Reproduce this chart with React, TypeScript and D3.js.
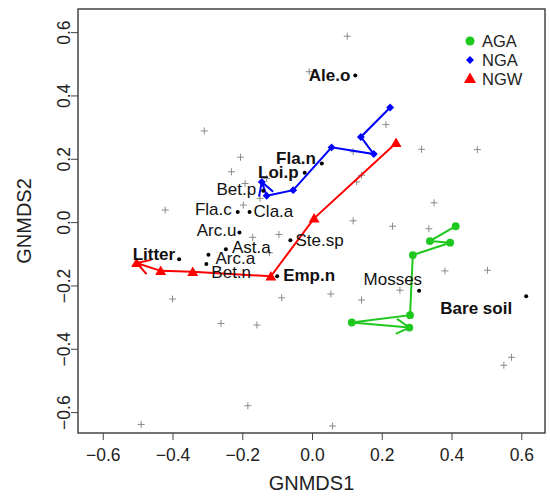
import { useEffect, useRef } from 'react';
import * as d3 from 'd3';

// site scores (grey crosses)
const sites: [number, number][] = [
  [0.101, 0.587], [-0.008, 0.475], [-0.309, 0.288], [0.212, 0.308], [0.314, 0.23],
  [0.474, 0.229], [-0.205, 0.205], [-0.231, 0.159], [0.118, 0.222], [0.142, 0.148],
  [0.128, 0.127], [-0.192, 0.122], [-0.13, 0.138], [-0.149, 0.075], [-0.421, 0.038],
  [-0.197, 0.054], [0.35, 0.061], [0.118, 0.004], [0.231, -0.013], [0.335, -0.021],
  [-0.17, -0.048], [-0.095, -0.039], [-0.122, -0.097], [-0.4, -0.243], [-0.087, -0.239],
  [0.054, -0.227], [0.142, -0.246], [0.252, -0.215], [0.381, -0.154], [0.503, -0.152],
  [-0.261, -0.32], [-0.158, -0.325], [0.572, -0.427], [0.55, -0.452], [-0.184, -0.58],
  [-0.49, -0.639], [0.059, -0.644],
];

// species scores
const speciesNames = ['Ale.o', 'Fla.n', 'Loi.p', 'Bet.p', 'Fla.c', 'Cla.a', 'Arc.u', 'Ast.a',
  'Ste.sp', 'Litter', 'Arc.a', 'Bet.n', 'Emp.n', 'Mosses', 'Bare soil'];
const speciesX = [0.124, 0.028, -0.021, -0.14, -0.213, -0.179, -0.208, -0.247,
  -0.062, -0.381, -0.297, -0.303, -0.1, 0.307, 0.614];
const speciesY = [0.463, 0.185, 0.156, 0.099, 0.032, 0.032, -0.033, -0.086,
  -0.057, -0.117, -0.103, -0.132, -0.171, -0.217, -0.234];
const boldSpecies = ['Ale.o', 'Fla.n', 'Loi.p', 'Litter', 'Emp.n', 'Bare soil'];

// group trajectories
const aga: [number, number][] = [
  [0.412, -0.013], [0.338, -0.06], [0.396, -0.065], [0.289, -0.104],
  [0.281, -0.294], [0.114, -0.317], [0.279, -0.333],
];
const nga: [number, number][] = [
  [0.224, 0.362], [0.14, 0.269], [0.177, 0.215], [0.056, 0.236],
  [-0.054, 0.101], [-0.13, 0.083], [-0.144, 0.127],
];
const ngw: [number, number][] = [
  [0.241, 0.25], [0.006, 0.012], [-0.118, -0.171], [-0.342, -0.157],
  [-0.434, -0.154], [-0.503, -0.129],
];

const groups = ['AGA', 'NGA', 'NGW'];
const ticks = [-0.6, -0.4, -0.2, 0, 0.2, 0.4, 0.6];

// label placement next to each species dot: [anchor, dx, dy]
const labelPos: Record<string, [string, number, number]> = {
  'Ale.o': ['end', -5, 0], 'Fla.n': ['end', -6, -5], 'Loi.p': ['end', -6, 0],
  'Bet.p': ['end', -7, -1], 'Fla.c': ['end', -6, -2], 'Cla.a': ['start', 4, 0],
  'Arc.u': ['end', -3, -2], 'Ast.a': ['start', 6, -2], 'Ste.sp': ['start', 5, 0],
  'Litter': ['end', -4, -5], 'Arc.a': ['start', 7, 4], 'Bet.n': ['start', 5, 9],
  'Emp.n': ['start', 6, -1], 'Mosses': ['end', 3, -11], 'Bare soil': ['end', -14, 12],
};

const font = 'Liberation Sans, Arial, Helvetica, sans-serif';
const colors: Record<string, string> = { AGA: '#1ec81e', NGA: '#0000ff', NGW: '#ff0000' };

const App = () => {
  const ref = useRef<SVGSVGElement>(null);

  useEffect(() => {
    const svg = d3.select(ref.current);
    svg.selectAll('*').remove();

    const left = 78, right = 545, top = 9, bottom = 433;
    const x = d3.scaleLinear().domain([-0.671, 0.668]).range([left, right]);
    const y = d3.scaleLinear().domain([-0.666, 0.673]).range([bottom, top]);

    // sites
    const cs = 3.5;
    svg.append('g')
      .selectAll('path')
      .data(sites)
      .join('path')
      .attr('d', d => `M${x(d[0]) - cs},${y(d[1])}h${cs * 2}M${x(d[0])},${y(d[1]) - cs}v${cs * 2}`)
      .attr('stroke', '#8a8a8a')
      .attr('stroke-width', 1);

    // trajectories
    const line = d3.line<[number, number]>().x(d => x(d[0])).y(d => y(d[1]));
    const tracks: Record<string, [number, number][]> = { AGA: aga, NGA: nga, NGW: ngw };
    groups.forEach(g => {
      const pts = tracks[g];
      const col = colors[g];
      svg.append('path')
        .datum(pts)
        .attr('fill', 'none')
        .attr('stroke', col)
        .attr('stroke-width', 2)
        .attr('d', line);

      // arrow head at last point
      const a = pts[pts.length - 2], b = pts[pts.length - 1];
      const bx = x(b[0]), by = y(b[1]);
      const ang = Math.atan2(y(a[1]) - by, x(a[0]) - bx);
      const len = 15;
      [-Math.PI / 6, Math.PI / 6].forEach(off => {
        svg.append('line')
          .attr('x1', bx).attr('y1', by)
          .attr('x2', bx + len * Math.cos(ang + off))
          .attr('y2', by + len * Math.sin(ang + off))
          .attr('stroke', col)
          .attr('stroke-width', 2);
      });

      const sym = g === 'AGA' ? d3.symbolCircle : g === 'NGA' ? d3.symbolDiamond2 : d3.symbolTriangle;
      const size = g === 'AGA' ? 48 : g === 'NGA' ? 40 : 52;
      svg.append('g')
        .selectAll('path')
        .data(pts)
        .join('path')
        .attr('transform', d => `translate(${x(d[0])},${y(d[1]) + (g === 'NGW' ? 1 : 0)})`)
        .attr('d', d3.symbol().type(sym).size(size)())
        .attr('fill', col);
    });

    // species
    const sp = svg.append('g');
    speciesNames.forEach((name, i) => {
      const px = x(speciesX[i]), py = y(speciesY[i]);
      sp.append('circle').attr('cx', px).attr('cy', py).attr('r', 2).attr('fill', '#000');
      const [anchor, dx, dy] = labelPos[name];
      sp.append('text')
        .attr('x', px + dx)
        .attr('y', py + dy)
        .attr('text-anchor', anchor)
        .attr('dominant-baseline', 'central')
        .attr('font-family', font)
        .attr('font-size', 17)
        .attr('font-weight', boldSpecies.includes(name) ? 'bold' : 'normal')
        .attr('fill', '#111')
        .text(name);
    });

    // axes
    const xAxis = svg.append('g')
      .attr('transform', `translate(0,${bottom})`)
      .call(d3.axisBottom(x).tickValues(ticks).tickSize(7).tickPadding(9).tickSizeOuter(0)
        .tickFormat(d => d3.format('.1f')(d as number).replace('-', '\u2212')));
    xAxis.select('.domain').remove();
    xAxis.selectAll('line').attr('stroke', '#444');
    xAxis.selectAll('text').attr('font-family', font).attr('font-size', 17.5).attr('fill', '#222');

    const yAxis = svg.append('g')
      .attr('transform', `translate(${left},0)`)
      .call(d3.axisLeft(y).tickValues(ticks).tickSize(7).tickSizeOuter(0)
        .tickFormat(d => d3.format('.1f')(d as number).replace('-', '\u2212')));
    yAxis.select('.domain').remove();
    yAxis.selectAll('line').attr('stroke', '#444');
    yAxis.selectAll('text')
      .attr('transform', 'rotate(-90)')
      .attr('x', 0).attr('y', -8).attr('dy', 0)
      .attr('text-anchor', 'middle')
      .attr('font-family', font).attr('font-size', 17.5).attr('fill', '#222');

    // box
    svg.append('rect')
      .attr('x', left).attr('y', top)
      .attr('width', right - left).attr('height', bottom - top)
      .attr('fill', 'none').attr('stroke', '#444').attr('stroke-width', 1.5);

    // axis titles
    svg.append('text')
      .attr('x', (left + right) / 2).attr('y', 490)
      .attr('text-anchor', 'middle')
      .attr('font-family', font).attr('font-size', 20).attr('fill', '#222')
      .text('GNMDS1');
    svg.append('text')
      .attr('transform', `translate(31,${(top + bottom) / 2}) rotate(-90)`)
      .attr('text-anchor', 'middle')
      .attr('font-family', font).attr('font-size', 20).attr('fill', '#222')
      .text('GNMDS2');

    // legend
    const lg = svg.append('g');
    const legendY = [41, 60, 78.5];
    groups.forEach((g, i) => {
      const sym = g === 'AGA' ? d3.symbolCircle : g === 'NGA' ? d3.symbolDiamond2 : d3.symbolTriangle;
      const size = g === 'AGA' ? 64 : g === 'NGA' ? 40 : 64;
      lg.append('path')
        .attr('transform', `translate(470,${legendY[i] + (g === 'NGW' ? 1 : 0)})`)
        .attr('d', d3.symbol().type(sym).size(size)())
        .attr('fill', colors[g]);
      lg.append('text')
        .attr('x', 482).attr('y', legendY[i])
        .attr('dominant-baseline', 'central')
        .attr('font-family', font).attr('font-size', 16.5).attr('fill', '#222')
        .text(g);
    });
  }, []);

  return (
    <svg ref={ref} width={550} height={497}
      style={{ position: 'absolute', left: 0, top: 0, background: '#fff' }} />
  );
};

export default App;
